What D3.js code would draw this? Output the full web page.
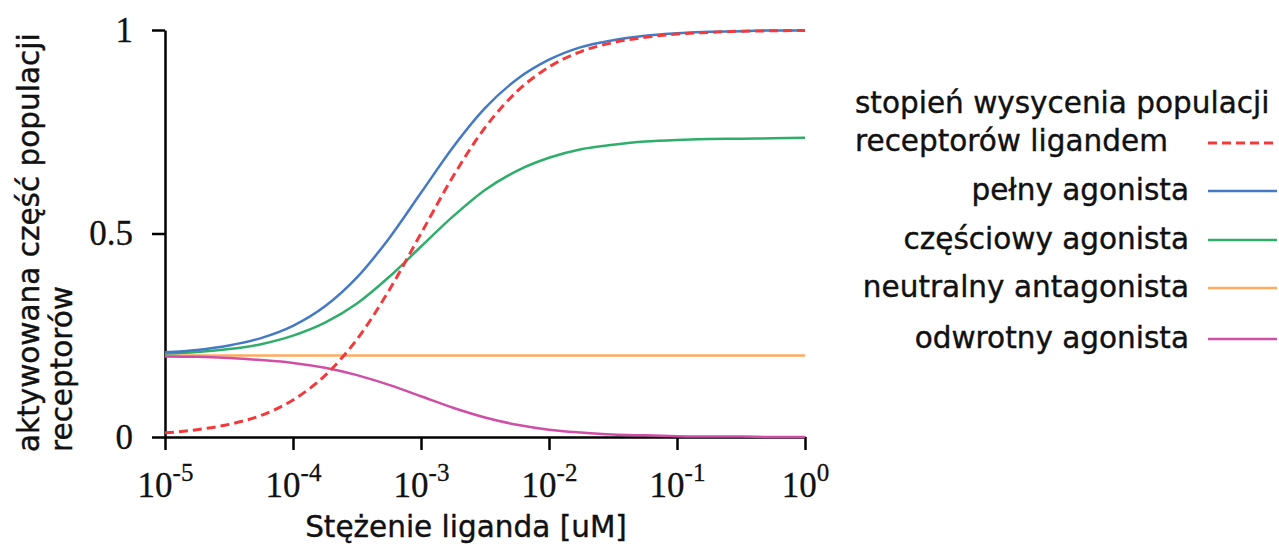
<!DOCTYPE html>
<html>
<head>
<meta charset="utf-8">
<script src="https://cdn.jsdelivr.net/npm/d3@7"></script>
<style>
    body { margin: 0; background: #fff; }
    .axis path, .axis line { stroke: #000; stroke-width: 2.5; }
    .axis text { font-family: "Liberation Serif", serif; font-size: 35px; fill: #111; stroke: #111; stroke-width: 0.3; }
    .label { font-family: "DejaVu Sans", sans-serif; font-size: 29.5px; fill: #111; stroke: #111; stroke-width: 0.4; }
</style>
</head>
<body>
<script>
(function() {

    //concentration exponents (10^x uM), quarter decades
    var logConc = [-5, -4.75, -4.5, -4.25, -4, -3.75, -3.5, -3.25, -3, -2.75, -2.5,
                   -2.25, -2, -1.75, -1.5, -1.25, -1, -0.75, -0.5, -0.25, 0];

    //series values
    var saturation = [0.010, 0.018, 0.031, 0.053, 0.091, 0.151, 0.240, 0.360, 0.500, 0.640, 0.760,
                      0.849, 0.909, 0.947, 0.969, 0.982, 0.990, 0.994, 0.997, 0.998, 0.999];
    var fullAgonist = [0.208, 0.214, 0.225, 0.243, 0.273, 0.321, 0.392, 0.488, 0.600, 0.712, 0.808,
                       0.879, 0.927, 0.958, 0.975, 0.986, 0.992, 0.996, 0.997, 0.999, 0.999];
    var partialAgonist = [0.205, 0.209, 0.216, 0.228, 0.249, 0.281, 0.328, 0.393, 0.468, 0.542, 0.607,
                          0.654, 0.686, 0.707, 0.718, 0.726, 0.730, 0.732, 0.733, 0.734, 0.735];
    var neutralAntagonist = [0.2, 0.2, 0.2, 0.2, 0.2, 0.2, 0.2, 0.2, 0.2, 0.2, 0.2,
                             0.2, 0.2, 0.2, 0.2, 0.2, 0.2, 0.2, 0.2, 0.2, 0.2];
    var inverseAgonist = [0.198, 0.197, 0.194, 0.189, 0.182, 0.170, 0.152, 0.128, 0.100, 0.072, 0.048,
                          0.030, 0.018, 0.011, 0.006, 0.004, 0.002, 0.001, 0.001, 0.000, 0.000];

    //tick values
    var xTickExp = [-5, -4, -3, -2, -1, 0];
    var yTicks = [0, 0.5, 1];

    //legend names
    var legendNames = ["stopień wysycenia populacji\nreceptorów ligandem", "pełny agonista",
                       "częściowy agonista", "neutralny antagonista", "odwrotny agonista"];

    var width = 1279, height = 546;

    var svg = d3.select("body")
        .append("svg")
        .attr("width", width)
        .attr("height", height);

    var x = d3.scaleLog()
        .domain([1e-5, 1])
        .range([165, 805]);

    var y = d3.scaleLinear()
        .domain([0, 1])
        .range([437, 30]);

    //x axis with 10^n labels
    var xAxis = svg.append("g")
        .attr("class", "axis")
        .attr("transform", "translate(0," + y(0) + ")")
        .call(d3.axisBottom(x)
            .tickValues(xTickExp.map(function(e) { return Math.pow(10, e); }))
            .tickSize(13)
            .tickSizeOuter(0)
            .tickFormat(""));

    xAxis.selectAll(".tick text")
        .data(xTickExp)
        .attr("y", 60)
        .attr("dy", 0)
        .each(function(e) {
            var t = d3.select(this);
            t.append("tspan").text("10");
            t.append("tspan")
                .attr("dy", -16)
                .style("font-size", "25px")
                .text(e);
        });

    //y axis
    svg.append("g")
        .attr("class", "axis")
        .attr("transform", "translate(" + x(1e-5) + ",0)")
        .call(d3.axisLeft(y)
            .tickValues(yTicks)
            .tickSize(13)
            .tickSizeOuter(0)
            .tickPadding(19)
            .tickFormat(d3.format("")));

    //axis titles
    svg.append("text")
        .attr("class", "label")
        .attr("x", 466)
        .attr("y", 537)
        .attr("text-anchor", "middle")
        .text("Stężenie liganda [uM]");

    var yTitle = svg.append("text")
        .attr("class", "label")
        .attr("transform", "translate(39,452) rotate(-90)");
    yTitle.append("tspan").attr("x", 0).attr("y", 0).text("aktywowana część populacji");
    yTitle.append("tspan").attr("x", 0).attr("y", 33).text("receptorów");

    //series
    var series = [
        { name: legendNames[3], values: neutralAntagonist, color: "#ffaa5c", dash: null, row: 3 },
        { name: legendNames[4], values: inverseAgonist, color: "#d04fa6", dash: null, row: 4 },
        { name: legendNames[2], values: partialAgonist, color: "#2fae6b", dash: null, row: 2 },
        { name: legendNames[1], values: fullAgonist, color: "#4479c4", dash: null, row: 1 },
        { name: legendNames[0], values: saturation, color: "#f23a3c", dash: "9,5", row: 0 }
    ];

    var line = d3.line()
        .x(function(d, i) { return x(Math.pow(10, logConc[i])); })
        .y(function(d) { return y(d); })
        .curve(d3.curveMonotoneX);

    svg.selectAll(".series")
        .data(series)
        .enter()
        .append("path")
        .attr("class", "series")
        .attr("d", function(d) { return line(d.values); })
        .attr("fill", "none")
        .attr("stroke", function(d) { return d.color; })
        .attr("stroke-width", function(d) { return d.dash ? 3 : 2.5; })
        .attr("stroke-dasharray", function(d) { return d.dash; });

    //legend
    var rowY = [143, 191, 240, 288, 339];

    var legend = svg.selectAll(".legendItem")
        .data(series)
        .enter()
        .append("g")
        .attr("class", "legendItem");

    legend.append("line")
        .attr("x1", 1208)
        .attr("x2", 1277)
        .attr("y1", function(d) { return rowY[d.row]; })
        .attr("y2", function(d) { return rowY[d.row]; })
        .attr("stroke", function(d) { return d.color; })
        .attr("stroke-width", function(d) { return d.dash ? 3 : 2.5; })
        .attr("stroke-dasharray", function(d) { return d.dash; });

    legend.each(function(d) {
        var g = d3.select(this);
        var parts = d.name.split("\n");
        if (parts.length > 1) {
            var t = g.append("text").attr("class", "label");
            t.append("tspan").attr("x", 855).attr("y", rowY[d.row] - 30).text(parts[0]);
            t.append("tspan").attr("x", 855).attr("y", rowY[d.row] + 8).text(parts[1]);
        } else {
            g.append("text")
                .attr("class", "label")
                .attr("x", 1189)
                .attr("y", rowY[d.row] + 9)
                .attr("text-anchor", "end")
                .text(d.name);
        }
    });

})();
</script>
</body>
</html>
